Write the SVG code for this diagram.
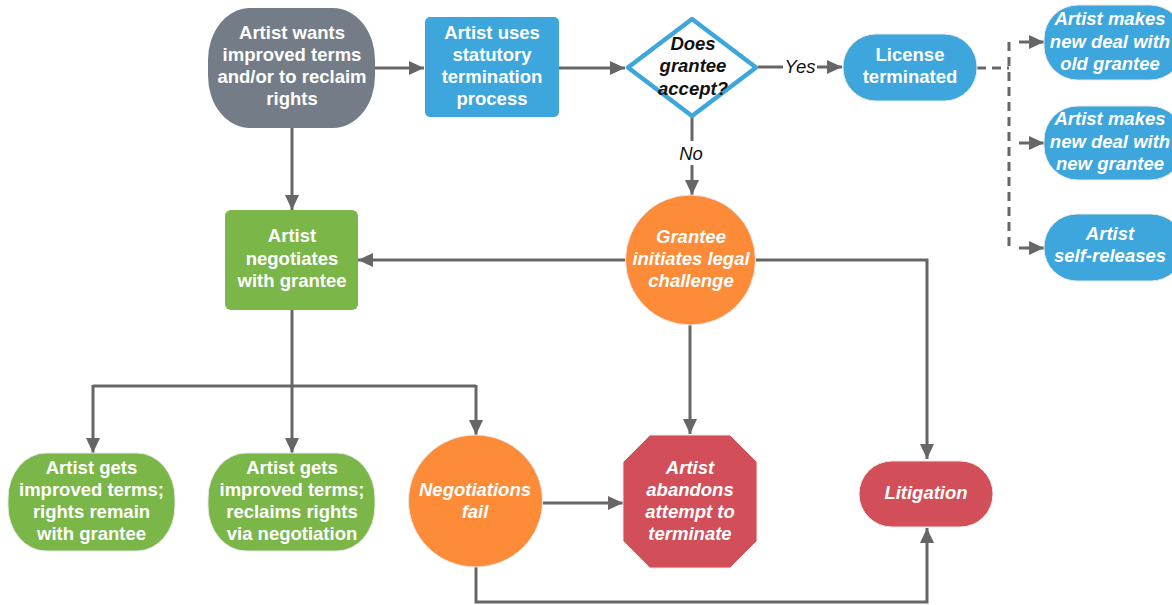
<svg xmlns="http://www.w3.org/2000/svg" width="1172" height="605" viewBox="0 0 1172 605">
<style>
.t{font-family:"Liberation Sans",Arial,sans-serif;font-size:18.5px;font-weight:bold;fill:#fff;text-anchor:middle}
.i{font-style:italic}
.dk{fill:#111}
.lbl{font-family:"Liberation Sans",Arial,sans-serif;font-size:18.5px;font-style:italic;fill:#111;text-anchor:middle}
.c{fill:none;stroke:#666;stroke-width:3}
.d{stroke-dasharray:9 6}
.gray{fill:#747d87}
.blue{fill:#3ca6dd}
.green{fill:#7ab648}
.orange{fill:#fd8b37}
.red{fill:#d24e58}
.sh{stroke:#e8e8e8;stroke-width:1}
</style>
<defs>
<marker id="ah" markerUnits="userSpaceOnUse" markerWidth="16" markerHeight="14" refX="15" refY="7" orient="auto">
<path d="M0,0 L15,7 L0,14 Z" fill="#666"/>
</marker>
</defs>
<rect width="1172" height="605" fill="#fff"/>

<g id="connectors">
<path class="c" d="M375,68 H424" marker-end="url(#ah)"/>
<path class="c" d="M559,68 H625" marker-end="url(#ah)"/>
<path class="c" d="M758,67 H842" marker-end="url(#ah)"/>
<path class="c" d="M692,117 V195" marker-end="url(#ah)"/>
<path class="c" d="M292,128 V210" marker-end="url(#ah)"/>
<path class="c" d="M625,260 H358" marker-end="url(#ah)"/>
<path class="c" d="M756,260 H927 V459" marker-end="url(#ah)"/>
<path class="c" d="M690,325 V434" marker-end="url(#ah)"/>
<path class="c" d="M292,310 V386"/>
<path class="c" d="M93,386 H476"/>
<path class="c" d="M93,385 V453" marker-end="url(#ah)"/>
<path class="c" d="M292,385 V453" marker-end="url(#ah)"/>
<path class="c" d="M476,385 V435" marker-end="url(#ah)"/>
<path class="c" d="M542,503 H623" marker-end="url(#ah)"/>
<path class="c" d="M476,567 V602 H927 V528" marker-end="url(#ah)"/>
<path class="c d" d="M977,68 H1009"/>
<path class="c d" d="M1009,42 V248"/>
<path class="c" d="M1019,42 H1044" marker-end="url(#ah)"/>
<path class="c" d="M1019,143 H1044" marker-end="url(#ah)"/>
<path class="c" d="M1019,248 H1044" marker-end="url(#ah)"/>
<rect x="783" y="55" width="34" height="24" fill="#fff"/>
<text class="lbl" x="800" y="73">Yes</text>
<rect x="676" y="141" width="30" height="24" fill="#fff"/>
<text class="lbl" x="691" y="159.5">No</text>
</g>

<g id="n-start">
<rect class="gray" x="208" y="8" width="167" height="120" rx="42" ry="52"/>
<text class="t" x="292" y="38.5">Artist wants</text>
<text class="t" x="292" y="60.5">improved terms</text>
<text class="t" x="292" y="83">and/or to reclaim</text>
<text class="t" x="292" y="105">rights</text>
</g>

<g id="n-statutory">
<rect class="blue" x="425" y="17" width="134" height="100" rx="5"/>
<text class="t" x="492" y="38.5">Artist uses</text>
<text class="t" x="492" y="60.5">statutory</text>
<text class="t" x="492" y="83">termination</text>
<text class="t" x="492" y="105">process</text>
</g>

<g id="n-accept">
<path d="M692,19 L756,67.5 L692,116 L628,67.5 Z" fill="#fff" stroke="#3ca6dd" stroke-width="4.5" stroke-linejoin="round"/>
<text class="t i dk" x="693" y="49.5">Does</text>
<text class="t i dk" x="693" y="72">grantee</text>
<text class="t i dk" x="693" y="94.5">accept?</text>
</g>

<g id="n-license">
<rect class="blue sh" x="843" y="34" width="134" height="67" rx="33"/>
<text class="t" x="910" y="60.5">License</text>
<text class="t" x="910" y="83">terminated</text>
</g>

<g id="n-old">
<rect class="blue sh" x="1044" y="5" width="140" height="75" rx="34"/>
<text class="t i" x="1110" y="24.5">Artist makes</text>
<text class="t i" x="1110" y="47.5">new deal with</text>
<text class="t i" x="1110" y="69.5">old grantee</text>
</g>

<g id="n-new">
<rect class="blue sh" x="1044" y="106" width="140" height="74" rx="34"/>
<text class="t i" x="1110" y="125">Artist makes</text>
<text class="t i" x="1110" y="148">new deal with</text>
<text class="t i" x="1110" y="170">new grantee</text>
</g>

<g id="n-self">
<rect class="blue sh" x="1044" y="214" width="140" height="67" rx="33"/>
<text class="t i" x="1110" y="240">Artist</text>
<text class="t i" x="1110" y="262">self-releases</text>
</g>

<g id="n-negotiates">
<rect class="green" x="225" y="210" width="133" height="100" rx="6"/>
<text class="t" x="292" y="242">Artist</text>
<text class="t" x="292" y="264.5">negotiates</text>
<text class="t" x="292" y="286.5">with grantee</text>
</g>

<g id="n-challenge">
<ellipse class="orange sh" cx="690.5" cy="260" rx="65" ry="65"/>
<text class="t i" x="691" y="242.5">Grantee</text>
<text class="t i" x="691" y="264.5">initiates legal</text>
<text class="t i" x="691" y="286.5">challenge</text>
</g>

<g id="n-remain">
<rect class="green sh" x="8" y="453" width="167" height="98" rx="38" ry="45"/>
<text class="t" x="91.5" y="473.5">Artist gets</text>
<text class="t" x="91.5" y="495.5">improved terms;</text>
<text class="t" x="91.5" y="517.5">rights remain</text>
<text class="t" x="91.5" y="539.5">with grantee</text>
</g>

<g id="n-reclaims">
<rect class="green sh" x="208" y="453" width="167" height="98" rx="38" ry="45"/>
<text class="t" x="292" y="473.5">Artist gets</text>
<text class="t" x="292" y="495.5">improved terms;</text>
<text class="t" x="292" y="517.5">reclaims rights</text>
<text class="t" x="292" y="539.5">via negotiation</text>
</g>

<g id="n-fail">
<ellipse class="orange sh" cx="475.5" cy="501" rx="67" ry="66"/>
<text class="t i" x="475" y="495.5">Negotiations</text>
<text class="t i" x="475" y="517.5">fail</text>
</g>

<g id="n-abandon">
<path class="red sh" d="M650,435 L730,435 L757,462 L757,541 L730,568 L650,568 L623,541 L623,462 Z"/>
<text class="t i" x="690" y="473.5">Artist</text>
<text class="t i" x="690" y="495.5">abandons</text>
<text class="t i" x="690" y="518">attempt to</text>
<text class="t i" x="690" y="539.5">terminate</text>
</g>

<g id="n-litigation">
<rect class="red sh" x="859" y="461" width="134" height="66" rx="33"/>
<text class="t i" x="926" y="498.5">Litigation</text>
</g>
</svg>
